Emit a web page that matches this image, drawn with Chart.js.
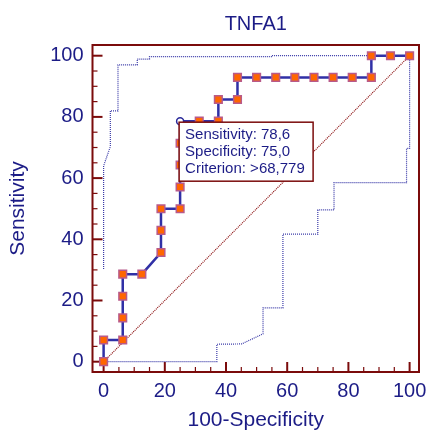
<!DOCTYPE html>
<html>
<head>
<meta charset="utf-8">
<script src="https://cdn.jsdelivr.net/npm/chart.js@4/dist/chart.umd.min.js"></script>
<style>
  html, body { margin: 0; padding: 0; background: #fff; }
</style>
</head>
<body>
<canvas id="roc" width="428" height="432"></canvas>
<script>
// ROC curve points: 100-Specificity (x) and Sensitivity (y)
const fpr  = [0, 0, 6.25, 6.25, 6.25, 6.25, 12.5, 18.75, 18.75, 18.75, 25, 25, 25, 25, 25,
              31.25, 37.5, 37.5, 43.75, 43.75, 50, 56.25, 62.5, 68.75, 75, 81.25, 87.5, 87.5, 93.75, 100];
const sens = [0, 7.1, 7.1, 14.3, 21.4, 28.6, 28.6, 35.7, 42.9, 50, 50, 57.1, 64.3, 71.4, 78.6,
              78.6, 78.6, 85.7, 85.7, 92.9, 92.9, 92.9, 92.9, 92.9, 92.9, 92.9, 92.9, 100, 100, 100];

// 95% confidence bounds
const upperX = [0, 0, 2.2, 2.2, 4.7, 4.7, 11, 11, 15, 15, 55, 55, 100];
const upperY = [30.3, 64, 70.3, 82, 82, 97, 97, 98.9, 98.9, 99.7, 99.7, 100, 100];
const lowerX = [100, 100, 99, 99, 75.3, 75.3, 70, 70, 58.6, 58.6, 52.1, 52.1, 45.1, 37, 37, 0];
const lowerY = [100, 69.7, 69.7, 58.5, 58.5, 49.6, 49.6, 41.7, 41.7, 17.6, 17.6, 9.1, 5.8, 5.7, 0, 0];

// reference diagonal
const diagX = [0, 100];
const diagY = [0, 100];

const majorTicks = [0, 20, 40, 60, 80, 100];
const tickStep = 5;

const cutIndex = 14;          // the point shown in the box
const criterion = '>68,779';

const navy = '#1c1c86';
const darkRed = '#7b0b0b';
const fontFamily = 'Arial, "Liberation Sans", sans-serif';

const toPoints = (xs, ys) => xs.map((x, i) => ({ x: x, y: ys[i] }));
const fmt = v => v.toFixed(1).replace('.', ',');

function allTicks() {
    const t = [];
    for (let v = 0; v <= 100; v += tickStep) t.push({ value: v });
    return t;
}

// frame round the plot and inward tick marks
const frameAndTicks = {
    id: 'frameAndTicks',
    beforeDatasetsDraw(chart) {
        const { ctx, chartArea: a, scales: { x, y } } = chart;
        ctx.save();
        ctx.strokeStyle = darkRed;
        allTicks().forEach(t => {
            const major = majorTicks.includes(t.value);
            ctx.lineWidth = major ? 2 : 1.2;
            const len = major ? 10 : 5;
            const px = x.getPixelForValue(t.value);
            ctx.beginPath();
            ctx.moveTo(px, a.bottom);
            ctx.lineTo(px, a.bottom - len);
            ctx.stroke();
            const py = y.getPixelForValue(t.value);
            ctx.beginPath();
            ctx.moveTo(a.left, py);
            ctx.lineTo(a.left + len, py);
            ctx.stroke();
        });
        ctx.lineWidth = 2;
        ctx.strokeRect(a.left, a.top, a.right - a.left, a.bottom - a.top);
        ctx.restore();
    }
};

// info box next to the chosen cut-off
const criterionBox = {
    id: 'criterionBox',
    afterDatasetsDraw(chart) {
        const { ctx, scales: { x, y } } = chart;
        const left = x.getPixelForValue(fpr[cutIndex]) - 1;
        const top = y.getPixelForValue(sens[cutIndex]) + 1;
        const lines = [
            'Sensitivity: ' + fmt(sens[cutIndex]),
            'Specificity: ' + fmt(100 - fpr[cutIndex]),
            'Criterion: ' + criterion
        ];
        ctx.save();
        ctx.fillStyle = '#fff';
        ctx.fillRect(left, top, 134, 59);
        ctx.strokeStyle = darkRed;
        ctx.lineWidth = 1.5;
        ctx.strokeRect(left, top, 134, 59);
        ctx.fillStyle = navy;
        ctx.font = '15px ' + fontFamily;
        ctx.textBaseline = 'alphabetic';
        lines.forEach((t, i) => ctx.fillText(t, left + 6, top + 17 + i * 16.7));
        ctx.restore();
    }
};

new Chart(document.getElementById('roc'), {
    type: 'scatter',
    data: {
        datasets: [
            {
                label: 'ROC',
                data: toPoints(fpr, sens),
                showLine: true,
                borderColor: '#3030a6',
                borderWidth: 2.5,
                pointStyle: c => c.dataIndex === cutIndex ? 'circle' : 'rect',
                pointRadius: c => c.dataIndex === cutIndex ? 3.5 : 5.4,
                pointBackgroundColor: c => c.dataIndex === cutIndex ? '#fff' : '#ff6600',
                pointBorderColor: c => c.dataIndex === cutIndex ? '#2a2a9a' : '#b85a8a',
                pointBorderWidth: 1.5,
                order: 0
            },
            {
                label: 'upper',
                data: toPoints(upperX, upperY),
                showLine: true,
                borderColor: '#3a3aa8',
                borderWidth: 1.2,
                borderDash: [1, 1],
                pointRadius: 0,
                order: 1
            },
            {
                label: 'lower',
                data: toPoints(lowerX, lowerY),
                showLine: true,
                borderColor: '#3a3aa8',
                borderWidth: 1.2,
                borderDash: [1, 1],
                pointRadius: 0,
                order: 1
            },
            {
                label: 'diagonal',
                data: toPoints(diagX, diagY),
                showLine: true,
                borderColor: '#8c1010',
                borderWidth: 1.2,
                borderDash: [1, 1],
                pointRadius: 0,
                order: 2
            }
        ]
    },
    options: {
        responsive: false,
        animation: false,
        layout: { padding: { top: 0, right: 9, bottom: 0, left: 0 } },
        plugins: {
            legend: { display: false },
            tooltip: { enabled: false },
            title: {
                display: true,
                text: 'TNFA1',
                fullSize: false,
                color: navy,
                font: { family: fontFamily, size: 20, weight: 'normal', lineHeight: 1.2 },
                padding: { top: 12, bottom: 9 }
            }
        },
        scales: {
            x: {
                type: 'linear',
                min: -3.63,
                max: 103.07,
                afterBuildTicks: s => { s.ticks = allTicks(); },
                afterFit: s => { s.height = 60; s.paddingLeft = 0; s.paddingRight = 0; },
                grid: { display: false, drawTicks: false },
                border: { display: false },
                ticks: {
                    autoSkip: false,
                    maxRotation: 0,
                    padding: 7.7,
                    color: navy,
                    font: { family: fontFamily, size: 20 },
                    callback: v => majorTicks.includes(v) ? v : ''
                },
                title: {
                    display: true,
                    text: '100-Specificity',
                    color: navy,
                    font: { family: fontFamily, size: 21, lineHeight: 1 },
                    padding: { top: 0, bottom: 1 }
                }
            },
            y: {
                type: 'linear',
                min: -3.37,
                max: 103.5,
                afterBuildTicks: s => { s.ticks = allTicks(); },
                afterFit: s => { s.width = 92.5; s.paddingTop = 0; s.paddingBottom = 0; },
                grid: { display: false, drawTicks: false },
                border: { display: false },
                ticks: {
                    autoSkip: false,
                    padding: 9,
                    color: navy,
                    font: { family: fontFamily, size: 20 },
                    callback: v => majorTicks.includes(v) ? v : ''
                },
                title: {
                    display: true,
                    text: 'Sensitivity',
                    color: navy,
                    font: { family: fontFamily, size: 21, lineHeight: 1 },
                    padding: { top: 7.5, bottom: 0 }
                }
            }
        }
    },
    plugins: [frameAndTicks, criterionBox]
});
</script>
</body>
</html>
